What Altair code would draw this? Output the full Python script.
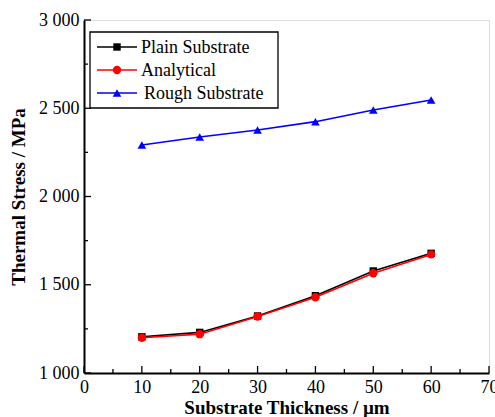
import altair as alt
import pandas as pd

# ---- data ----
thickness = [10, 20, 30, 40, 50, 60]
plain = [1205, 1230, 1323, 1438, 1578, 1678]
analytical = [1200, 1220, 1320, 1429, 1565, 1672]
rough = [2292, 2337, 2377, 2424, 2490, 2547]
series_names = ["Plain Substrate", "Analytical", "Rough Substrate"]
x_ticks = [0, 10, 20, 30, 40, 50, 60, 70]
x_minor = [5, 15, 25, 35, 45, 55, 65]
y_ticks = [1000, 1500, 2000, 2500, 3000]
y_minor = [1250, 1750, 2250, 2750]

# ---- styles ----
colors = ["#000000", "#ff0000", "#0000ff"]
shapes = ["square", "circle", "triangle-up"]
sizes = [55, 70, 75]
FONT = "Times New Roman, Liberation Serif, serif"
W, H = 405, 353

rows = []
for name, vals in zip(series_names, [plain, analytical, rough]):
    for t, v in zip(thickness, vals):
        rows.append({"series": name, "thickness": t, "stress": v})
df = pd.DataFrame(rows)

xs = alt.Scale(domain=[0, 70], nice=False)
ys = alt.Scale(domain=[1000, 3000], nice=False)

x_axis = alt.Axis(values=x_ticks, ticks=False, grid=False, domainColor="black",
                  domainWidth=2, labelFont=FONT, labelFontSize=18, labelColor="black",
                  labelPadding=5, title="Substrate Thickness / µm", titleFont=FONT,
                  titleFontSize=19, titleFontWeight="bold", titleColor="black",
                  titlePadding=2, labelFlush=False)
y_axis = alt.Axis(values=y_ticks, ticks=False, grid=False, domainColor="black",
                  domainWidth=2, labelFont=FONT, labelFontSize=18, labelColor="black",
                  labelPadding=5, labelExpr="replace(format(datum.value, ','), ',', ' ')",
                  title="Thermal Stress / MPa", titleFont=FONT, titleFontSize=19,
                  titleFontWeight="bold", titleColor="black", titlePadding=10,
                  labelFlush=False)

layers = []
for i, name in enumerate(series_names):
    sub = df[df.series == name]
    base = alt.Chart(sub)
    line = base.mark_line(color=colors[i], strokeWidth=1.6).encode(
        x=alt.X("thickness:Q", scale=xs, axis=x_axis),
        y=alt.Y("stress:Q", scale=ys, axis=y_axis),
    )
    pts = base.mark_point(shape=shapes[i], filled=True, opacity=1, size=sizes[i],
                          color=colors[i]).encode(
        x=alt.X("thickness:Q", scale=xs), y=alt.Y("stress:Q", scale=ys))
    layers += [line, pts]

# inward ticks
xt = pd.DataFrame({"v": x_ticks})
xm = pd.DataFrame({"v": x_minor})
yt = pd.DataFrame({"v": y_ticks})
ym = pd.DataFrame({"v": y_minor})
tick_style = dict(color="black", strokeWidth=1.3)
layers.append(alt.Chart(xt).mark_rule(**tick_style).encode(
    x=alt.X("v:Q", scale=xs), y=alt.value(H), y2=alt.value(H - 7)))
layers.append(alt.Chart(xm).mark_rule(**tick_style).encode(
    x=alt.X("v:Q", scale=xs), y=alt.value(H), y2=alt.value(H - 4)))
layers.append(alt.Chart(yt).mark_rule(**tick_style).encode(
    y=alt.Y("v:Q", scale=ys), x=alt.value(0), x2=alt.value(7)))
layers.append(alt.Chart(ym).mark_rule(**tick_style).encode(
    y=alt.Y("v:Q", scale=ys), x=alt.value(0), x2=alt.value(4)))

# legend box
one = pd.DataFrame({"k": [0]})
layers.append(alt.Chart(one).mark_rect(fill="white", stroke="black", strokeWidth=1.3).encode(
    x=alt.value(6), x2=alt.value(194), y=alt.value(12), y2=alt.value(88)))
row_y = [27, 50, 73]
text_x = [57, 57, 60]
for i, name in enumerate(series_names):
    d = pd.DataFrame({"name": [name]})
    layers.append(alt.Chart(d).mark_rule(color=colors[i], strokeWidth=1.6).encode(
        x=alt.value(13), x2=alt.value(53), y=alt.value(row_y[i])))
    layers.append(alt.Chart(d).mark_point(shape=shapes[i], filled=True, opacity=1,
                                          size=sizes[i], color=colors[i]).encode(
        x=alt.value(33), y=alt.value(row_y[i])))
    layers.append(alt.Chart(d).mark_text(align="left", baseline="middle", font=FONT,
                                         fontSize=18, color="black").encode(
        x=alt.value(text_x[i]), y=alt.value(row_y[i] + 1), text="name:N"))

chart = alt.layer(*layers).properties(
    width=W, height=H,
    autosize=alt.AutoSizeParams(type="none"),
    padding={"left": 84, "top": 20, "right": 6, "bottom": 44},
).configure_view(stroke="black", strokeWidth=1.5).configure(background="white")

chart.save("out.html", embed_options={"renderer": "svg", "actions": False})
